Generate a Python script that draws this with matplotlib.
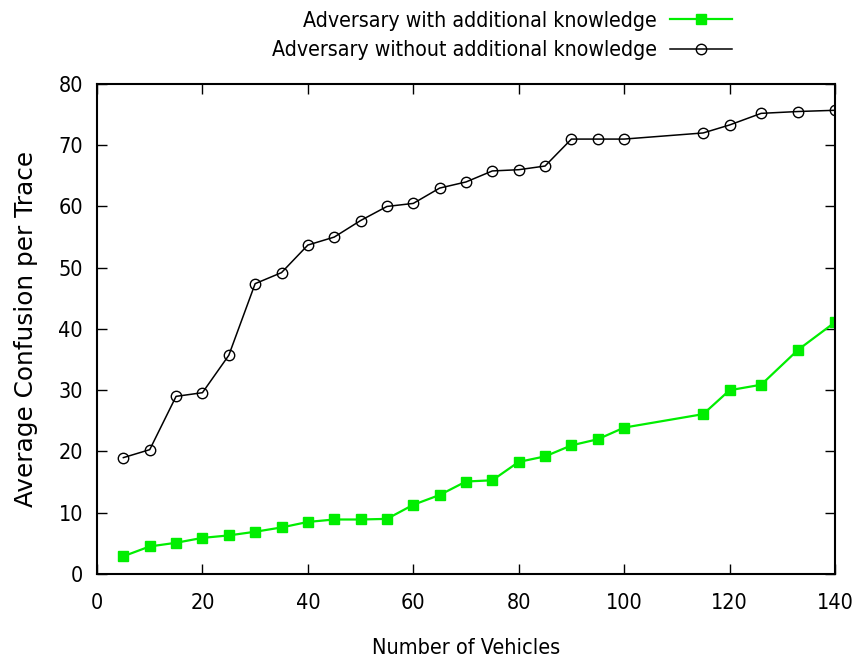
import matplotlib
matplotlib.use("Agg")
from matplotlib import pyplot as plt

# Vehicles in the simulation
vehicles = [5, 10, 15, 20, 25, 30, 35, 40, 45, 50, 55, 60, 65, 70, 75, 80, 85, 90, 95, 100,
            115, 120, 126, 133, 140]

# Average confusion per trace for both adversary models
with_knowledge = [2.9, 4.5, 5.1, 5.9, 6.3, 6.9, 7.6, 8.5, 8.9, 8.9, 9.0, 11.3, 12.9, 15.1, 15.3,
                  18.3, 19.2, 21.0, 22.0, 23.9, 26.1, 30.0, 30.9, 36.6, 41.1]
without_knowledge = [19.0, 20.3, 29.0, 29.6, 35.7, 47.4, 49.2, 53.7, 55.0, 57.7, 60.0, 60.5, 63.0,
                     64.0, 65.8, 66.0, 66.6, 71.0, 71.0, 71.0, 72.0, 73.3, 75.2, 75.5, 75.7]

x_ticks = [0, 20, 40, 60, 80, 100, 120, 140]
y_ticks = [0, 10, 20, 30, 40, 50, 60, 70, 80]

cond = {"family": "DejaVu Sans", "stretch": "condensed"}

fig = plt.figure(figsize=(8.57, 6.61), dpi=100)
ax = fig.add_axes([0.1132, 0.1316, 0.8611, 0.7414])

ax.plot(vehicles, with_knowledge, color="#00ee00", lw=1.6, marker="s", ms=7.5,
        label="Adversary with additional knowledge")
ax.plot(vehicles, without_knowledge, color="black", lw=1.1, marker="o", ms=7.5,
        mfc="none", mec="black", mew=1.0, label="Adversary without additional knowledge")

ax.set_xlim(0, 140)
ax.set_ylim(0, 80)
ax.set_xticks(x_ticks)
ax.set_yticks(y_ticks)
ax.set_xticklabels([str(t) for t in x_ticks], fontdict=cond, fontsize=15.5)
ax.set_yticklabels([str(t) for t in y_ticks], fontdict=cond, fontsize=15.5)
ax.tick_params(direction="in", length=7, width=1, top=True, right=True)
ax.tick_params(axis="x", pad=14)
ax.tick_params(axis="y", pad=10)
for s in ax.spines.values():
    s.set_linewidth(1.5)

ax.set_xlabel("Number of Vehicles", fontdict=cond, fontsize=15.5, labelpad=18)
ax.set_ylabel("Average Confusion per Trace", fontsize=17.8, labelpad=15)

ax.legend(loc="upper right", bbox_to_anchor=(0.866, 1.0), bbox_transform=fig.transFigure,
          frameon=False, markerfirst=False, handlelength=2.9, handletextpad=0.6,
          labelspacing=0.45, borderpad=0.0, prop={**cond, "size": 15.3})

fig.savefig("out.png", dpi=100)
